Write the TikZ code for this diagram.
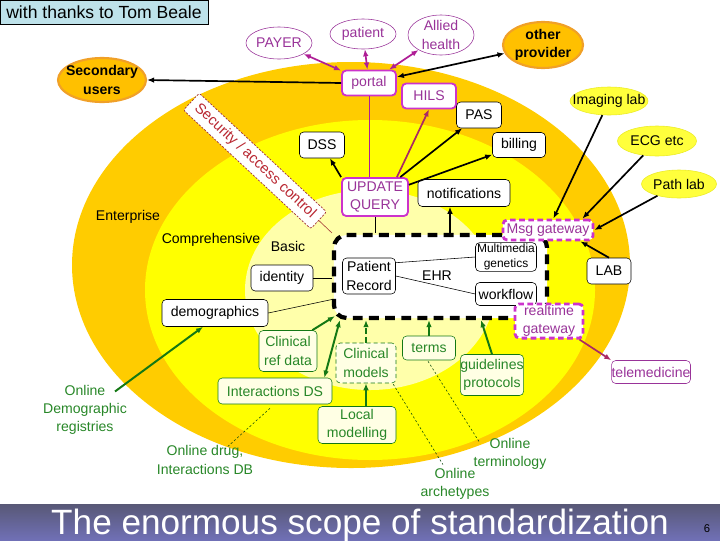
\documentclass[tikz,border=0pt]{standalone}
\usepackage{fontspec}
\setmainfont{Liberation Sans}
\usepackage{xcolor}
\usepackage{tikz}
\usetikzlibrary{arrows.meta,positioning,shapes.geometric,calc}
\definecolor{RingOuter}{RGB}{255,204,0}
\definecolor{RingMid}{RGB}{255,255,0}
\definecolor{RingInner}{RGB}{255,255,170}
\definecolor{PlumText}{RGB}{153,51,153}
\definecolor{PlumEdge}{RGB}{204,51,204}
\definecolor{PlumLink}{RGB}{175,30,150}
\definecolor{WineLink}{RGB}{170,40,100}
\definecolor{LeafText}{RGB}{40,135,40}
\definecolor{LeafLine}{RGB}{20,120,20}
\definecolor{LeafFill}{RGB}{255,255,228}
\definecolor{OrangeFill}{RGB}{255,192,0}
\definecolor{OrangeEdge}{RGB}{240,160,40}
\definecolor{LemonFill}{RGB}{255,255,60}
\definecolor{LemonEdge}{RGB}{235,235,40}
\definecolor{SecRed}{RGB}{185,40,50}
\definecolor{SecLine}{RGB}{160,50,50}
\definecolor{ThanksBlue}{RGB}{190,226,234}
\definecolor{BarTop}{RGB}{88,88,118}
\definecolor{BarBottom}{RGB}{112,112,182}
\newcommand{\slidefont}{\fontsize{10}{13}\selectfont}
\newcommand{\smallslidefont}{\fontsize{8.5}{10.5}\selectfont}

\begin{document}
\begin{tikzpicture}[x=0.025cm,y=-0.025cm,>={Latex[length=5pt,width=4pt]},font=\slidefont,
  roundbox/.style={draw,rounded corners=3pt,fill=white,inner sep=1pt,align=center},
  blackbox/.style={roundbox,draw=black,thin},
  plumbox/.style={roundbox,draw=PlumEdge,line width=1.3pt,text=PlumText},
  gatebox/.style={roundbox,draw=PlumEdge,line width=2pt,dash pattern=on 4pt off 2.5pt,text=PlumText},
  leafbox/.style={roundbox,draw=LeafLine,fill=LeafFill,text=LeafText},
  ehrzone/.style={draw,fill=white,rounded corners=9pt,line width=3pt,dash pattern=on 7pt off 4.5pt},
  secbox/.style={draw=SecLine,fill=white,text=SecRed,dash pattern=on 1.5pt off 1pt,line width=0.5pt,
    rounded corners=1.5pt,minimum height=0.55cm,inner xsep=5pt,font=\fontsize{10.5}{12}\selectfont},
  plumoval/.style={ellipse,draw=PlumText,fill=white},
  orangeoval/.style={ellipse,draw=OrangeEdge,line width=1.5pt,fill=OrangeFill},
  lemonoval/.style={ellipse,draw=LemonEdge,fill=LemonFill},
  ovaltext/.style={align=center,inner sep=0pt},
  leaftext/.style={align=center,inner sep=1pt,text=LeafText},
  ringtext/.style={inner sep=1pt},
  blackarrow/.style={->,line width=1.2pt},
  plumarrow/.style={<->,line width=1.2pt,color=PlumLink},
  winearrow/.style={->,line width=1.2pt,color=WineLink},
  leafarrow/.style={->,line width=1.4pt,color=LeafLine},
  hintline/.style={color=LeafLine!60!black,line width=0.4pt,dash pattern=on 1.5pt off 1.5pt}]
\useasboundingbox (0,0) rectangle (720,540);

% rings
\fill[RingOuter] (351,265) ellipse [x radius=279,y radius=203];
\fill[RingMid] (370,290) ellipse [x radius=225,y radius=170];
\fill[RingInner] (370,290) ellipse [x radius=125,y radius=100];
\node[ringtext] (enterprise) at (128,217) {Enterprise};
\node[ringtext] (comprehensive) at (211,240) {Comprehensive};
\node[ringtext] (basic) at (288,246) {Basic};

% record zone
\node[ehrzone,minimum width=5.325cm,minimum height=2.075cm] (ehr) at (440.5,276.5) {};
\node[ringtext] (ehrlabel) at (437,276) {EHR};
\node[blackbox,minimum width=1.325cm,minimum height=0.9cm] (prec) at (369,276) {Patient\\Record};
\node[blackbox,minimum width=1.525cm,minimum height=0.65cm,font=\smallslidefont] (mmg) at (506,257) {Multimedia\\genetics};
\node[blackbox,minimum width=1.525cm,minimum height=0.575cm] (wflow) at (506,294) {workflow};

% outside parties
\node[draw,thin,fill=ThanksBlue,minimum width=5.2cm,minimum height=0.6cm,inner sep=0pt,
  font=\fontsize{12.5}{15}\selectfont] (thanks) at (104,12) {with thanks to Tom Beale};
\node[plumoval,minimum width=1.65cm,minimum height=0.8cm] (payer) at (279,43) {};
\node[ovaltext,text=PlumText] (payertext) at (payer) {PAYER};
\node[plumoval,minimum width=1.65cm,minimum height=0.75cm] (patient) at (363,34) {};
\node[ovaltext,text=PlumText] (patienttext) at (patient) {patient};
\node[plumoval,minimum width=1.65cm,minimum height=1cm] (allied) at (441,35) {};
\node[ovaltext,text=PlumText] (alliedtext) at (allied) {Allied\\health};
\node[orangeoval,minimum width=2cm,minimum height=1.15cm] (other) at (543,45) {};
\node[ovaltext,font=\slidefont\bfseries] (othertext) at (other) {other\\provider};
\node[orangeoval,minimum width=2.2cm,minimum height=1.1cm] (secondary) at (102,80) {};
\node[ovaltext,font=\slidefont\bfseries] (secondarytext) at (secondary) {Secondary\\users};
\node[lemonoval,minimum width=1.95cm,minimum height=0.7cm] (imaging) at (609,101) {};
\node[ovaltext] (imagingtext) at (imaging) {Imaging lab};
\node[lemonoval,minimum width=1.975cm,minimum height=0.75cm] (ecg) at (657,141) {};
\node[ovaltext] (ecgtext) at (ecg) {ECG etc};
\node[lemonoval,minimum width=1.875cm,minimum height=0.7cm] (pathlab) at (679,184) {};
\node[ovaltext] (pathlabtext) at (pathlab) {Path lab};

% services
\node[plumbox,minimum width=1.35cm,minimum height=0.625cm] (portal) at (369,83) {portal};
\node[plumbox,minimum width=1.35cm,minimum height=0.625cm] (hils) at (429,96) {HILS};
\node[blackbox,minimum width=1.125cm,minimum height=0.65cm] (pas) at (479,115) {PAS};
\node[blackbox,minimum width=1.125cm,minimum height=0.65cm] (dss) at (322,145) {DSS};
\node[blackbox,minimum width=1.325cm,minimum height=0.625cm] (billing) at (519,145) {billing};
\node[plumbox,minimum width=1.65cm,minimum height=0.95cm] (update) at (375,197) {UPDATE\\QUERY};
\node[blackbox,minimum width=2.3cm,minimum height=0.675cm] (notif) at (464,193) {notifications};
\node[gatebox,minimum width=2.25cm,minimum height=0.5cm] (msg) at (548,230) {Msg gateway};
\node[blackbox,minimum width=1.1cm,minimum height=0.65cm] (lab) at (609,271) {LAB};
\node[gatebox,minimum width=1.7cm,minimum height=0.8cm] (rtg) at (549,321) {realtime\\gateway};
\node[roundbox,draw=PlumText,text=PlumText,thin,inner sep=0pt,minimum width=1.95cm,minimum height=0.575cm] (tele) at (651,372) {telemedicine};
\node[blackbox,minimum width=1.55cm,minimum height=0.65cm] (ident) at (282,278) {identity};
\node[blackbox,minimum width=2.65cm,minimum height=0.675cm] (demo) at (215,313) {demographics};
\node[secbox,rotate=-43] (secure) at (255,161) {Security / access control};

% knowledge
\node[leafbox,minimum width=1.45cm,minimum height=1.025cm] (cref) at (288,351) {Clinical\\ref data};
\node[leafbox,dash pattern=on 3pt off 2pt,minimum width=1.5cm,minimum height=1cm] (cmod) at (366,363) {Clinical\\models};
\node[leafbox,minimum width=1.325cm,minimum height=0.6cm] (terms) at (429,348) {terms};
\node[leafbox,inner sep=0pt,minimum width=1.475cm,minimum height=1.025cm] (guide) at (492,375) {guidelines\\protocols};
\node[leafbox,minimum width=2.85cm,minimum height=0.65cm] (ids) at (275,391) {Interactions DS};
\node[leafbox,minimum width=1.95cm,minimum height=0.925cm] (lmod) at (357,425) {Local\\modelling};
\node[leaftext] (odemo) at (85,410) {Online\\Demographic\\registries};
\node[leaftext] (odrug) at (205,460) {Online drug,\\Interactions DB};
\node[leaftext] (oterm) at (510,454) {Online\\terminology};
\node[leaftext] (oarch) at (455,484) {Online\\archetypes};

% portal links
\draw[blackarrow] (portal.west) -- (secondary.east);
\draw[plumarrow] (portal) -- (payer);
\draw[plumarrow] (portal) -- (patient);
\draw[plumarrow] (portal) -- (allied);
\draw[blackarrow,<->] (portal) -- (other);
\draw[PlumLink,thin] (portal.south) -- (portal.south |- update.north);

% update links
\draw[winearrow] ($(update.north east)+(-12,0)$) -- (hils.south);
\draw[blackarrow] (update) -- (pas);
\draw[blackarrow] (update) -- (billing);
\draw[blackarrow] (update.north west) -- (dss);
\draw[thin] (update.south) -- (update.south |- ehr.north);
\draw[blackarrow] ($(notif.south |- ehr.north)+(-14,0)$) -- ($(notif.south)+(-14,0)$);

% gateways
\draw[blackarrow] (imaging) -- (msg);
\draw[blackarrow] (ecg) -- ($(msg.north east)+(-12,0)$);
\draw[blackarrow] (pathlab) -- (msg.east);
\draw[blackarrow] (lab.north) -- ($(msg.south east)+(-14,0)$);
\draw[winearrow] ($(rtg.south east)+(-5,0)$) -- (tele.north west);

% record parts
\draw[thin] ($(prec.north east)+(0,5)$) -- (mmg.west);
\draw[thin] (prec.east) -- (wflow.west);
\draw[thin] (ident.east) -- (ident.east -| ehr.west);
\draw[thin] (demo.east) -- ($(ehr.west)+(0,23)$);
\draw[SecLine,thin] (secure.east) -- (ehr.north west);

% knowledge links
\draw[leafarrow] ($(odemo.north)+(30,8)$) -- ($(demo.south)+(-12,0)$);
\draw[leafarrow] ($(cref.north east)+(-5,0)$) -- ($(ehr.south west)+(3,-4)$);
\draw[leafarrow,<->] ($(ids.north east)+(-8,0)$) -- ($(ehr.south west)+(8,0)$);
\draw[leafarrow,dash pattern=on 4pt off 2.5pt] (cmod.north) -- (cmod.north |- ehr.south);
\draw[leafarrow] (terms.north) -- (terms.north |- ehr.south);
\draw[leafarrow] (guide.north) -- ($(guide.north |- ehr.south)+(-11,0)$);
\draw[leafarrow] (cmod.south |- lmod.north) -- (cmod.south);
\draw[hintline] ($(ids.south)+(-5,4)$) -- ($(odrug.north)+(20,5)$);
\draw[hintline] ($(cmod.south east)+(-3,1)$) -- ($(oarch.north)+(-12,-2)$);
\draw[hintline] ($(terms.south)+(-1,1)$) -- ($(oterm.west)+(8,-11)$);

% title bar
\shade[top color=BarTop,bottom color=BarBottom] (0,504) rectangle (720,540);
\node[anchor=base,text=white,inner sep=0pt,font=\fontsize{25}{30}\selectfont] (title) at (360,534) {The enormous scope of standardization};
\node[anchor=base,inner sep=0pt,font=\fontsize{8}{9.6}\selectfont] (pageno) at (707,532) {6};
\end{tikzpicture}
\end{document}
